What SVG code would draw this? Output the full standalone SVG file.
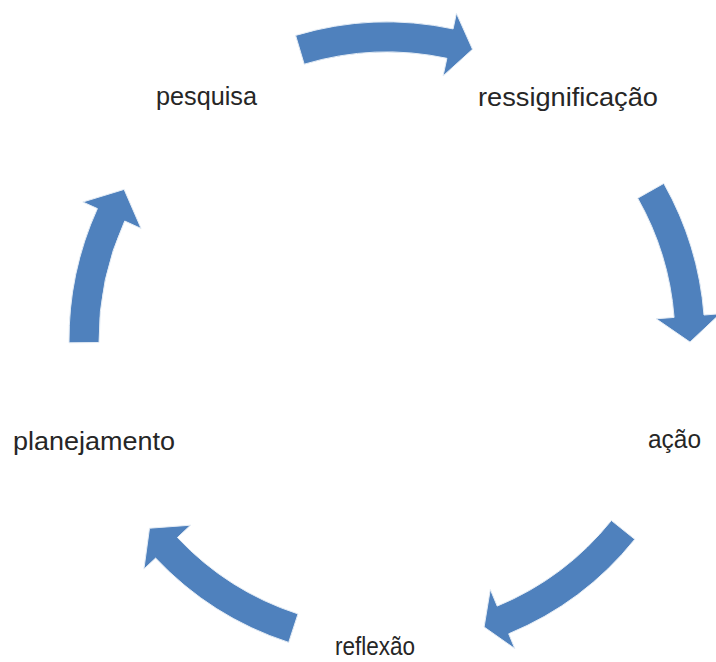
<svg xmlns="http://www.w3.org/2000/svg" width="716" height="662" viewBox="0 0 716 662">
<style>
.arrow{fill:#4F81BD;stroke:#E4ECF5;stroke-width:1}
.lbl{font-family:"Liberation Sans",Arial,sans-serif;font-size:26px;fill:#262626}
</style>
<rect width="716" height="662" fill="#FFFFFF"/>
<g id="connectors">
<path class="arrow" d="M295.6,35.4 A318,318 0 0 1 453.1,28.9 L456.4,13.3 L472.5,49.3 L443.1,75.9 L446.9,58.3 A288,288 0 0 0 304.2,64.2 Z"/>
<path class="arrow" d="M663.8,183.4 A318,318 0 0 1 704.0,315.0 L720.0,313.8 L690.0,342.1 L656.2,318.8 L674.1,317.4 A288,288 0 0 0 637.7,198.2 Z"/>
<path class="arrow" d="M634.8,539.3 A318,318 0 0 1 508.7,633.8 L514.8,648.6 L484.1,627.0 L490.3,589.5 L497.2,606.1 A288,288 0 0 0 611.4,520.5 Z"/>
<path class="arrow" d="M288.7,642.4 A318,318 0 0 1 155.6,558.1 L143.9,569.1 L149.5,528.2 L190.5,525.2 L177.4,537.5 A288,288 0 0 0 298.0,613.9 Z"/>
<path class="arrow" d="M69.0,342.8 A318,318 0 0 1 97.4,208.6 L82.8,202.0 L124.1,189.4 L141.1,228.5 L124.7,221.0 A288,288 0 0 0 99.0,342.5 Z"/>
</g>
<g id="node-pesquisa"><text class="lbl" x="156" y="105" textLength="101" lengthAdjust="spacingAndGlyphs">pesquisa</text></g>
<g id="node-ressignificacao"><text class="lbl" x="478" y="105.5" textLength="180" lengthAdjust="spacingAndGlyphs">ressignificação</text></g>
<g id="node-acao"><text class="lbl" x="648" y="448" textLength="53" lengthAdjust="spacingAndGlyphs">ação</text></g>
<g id="node-reflexao"><text class="lbl" x="335" y="655" textLength="80" lengthAdjust="spacingAndGlyphs">reflexão</text></g>
<g id="node-planejamento"><text class="lbl" x="13" y="450" textLength="162" lengthAdjust="spacingAndGlyphs">planejamento</text></g>
</svg>
